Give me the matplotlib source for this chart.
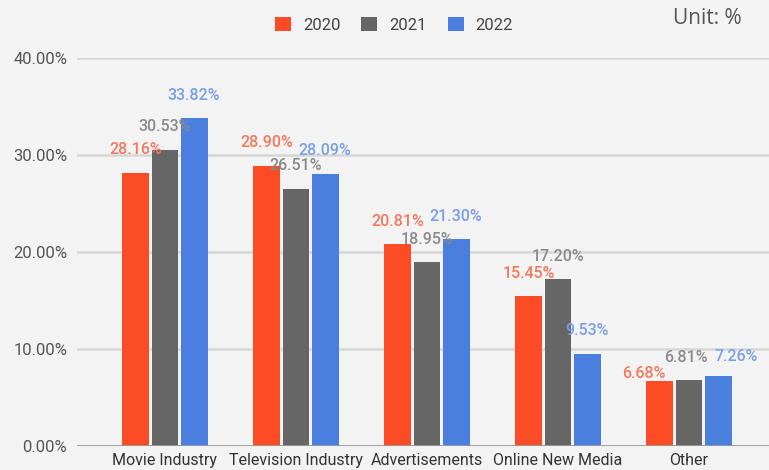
import numpy as np
import matplotlib.pyplot as plt
from matplotlib.ticker import FuncFormatter

categories = ['Movie Industry', 'Television Industry', 'Advertisements', 'Online New Media', 'Other']
years = ['2020', '2021', '2022']
v2020 = [28.16, 28.90, 20.81, 15.45, 6.68]
v2021 = [30.53, 26.51, 18.95, 17.20, 6.81]
v2022 = [33.82, 28.09, 21.30, 9.53, 7.26]

bar_colors = ['#fb4c25', '#666666', '#4a7fe0']
text_colors = ['#f4795c', '#8a8a8a', '#7a9fe6']
bg = '#f3f3f3'

# label nudges (points) where the labels would collide, keyed by (series, category)
nudges = {(0, 4): (-11.5, -11), (1, 4): (-2, 0), (2, 4): (13, -3)}

plt.rcParams['font.family'] = ['Roboto', 'DejaVu Sans']

fig = plt.figure(figsize=(7.69, 4.70), dpi=100, facecolor=bg)
ax = fig.add_axes([77 / 769, 24 / 470, 692 / 769, 388 / 470], facecolor=bg)

x = np.arange(len(categories))
width = 0.205
step = 0.222
series = [v2020, v2021, v2022]
for i, vals in enumerate(series):
    pos = x + (i - 1) * step
    ax.bar(pos, vals, width, color=bar_colors[i], label=years[i], zorder=3)
    for j, (px, v) in enumerate(zip(pos, vals)):
        dx, dy = nudges.get((i, j), (0, 0))
        ax.annotate(f'{v:.2f}%', (px, v), xytext=(dx, 16.5 + dy), textcoords='offset points',
                    ha='center', va='center', fontsize=11.5, fontweight='medium',
                    color=text_colors[i], zorder=4)

ax.set_ylim(0, 40)
ax.set_xlim((77 - 165) / 131, (769 - 165) / 131)
ax.set_yticks([0, 10, 20, 30, 40])
ax.yaxis.set_major_formatter(FuncFormatter(lambda v, p: f'{v:.2f}%'))
ax.grid(axis='y', color='#d6d6d6', linewidth=1.8, zorder=0)
ax.axhline(0, color='#9a9a9a', linewidth=2, zorder=5)
ax.set_xticks(x)
ax.set_xticklabels(categories, fontsize=11.5, color='#333333')
ax.tick_params(axis='x', length=0, pad=5)
ax.tick_params(axis='y', length=0, pad=7, labelsize=12, labelcolor='#555555')
for s in ax.spines.values():
    s.set_visible(False)

leg = fig.legend(loc='center', bbox_to_anchor=(394 / 769, 1 - 25 / 470), ncol=3, frameon=False,
                 prop={'size': 12}, handlelength=0.96, handleheight=0.96,
                 handletextpad=0.72, columnspacing=1.26)
for t in leg.get_texts():
    t.set_color('#444444')

fig.text(742 / 769, 1 - 18 / 470, 'Unit: %', ha='right', va='center', fontsize=15,
         color='#555555', family=['Open Sans', 'DejaVu Sans'])

fig.savefig('out.png', dpi=100, facecolor=bg)
